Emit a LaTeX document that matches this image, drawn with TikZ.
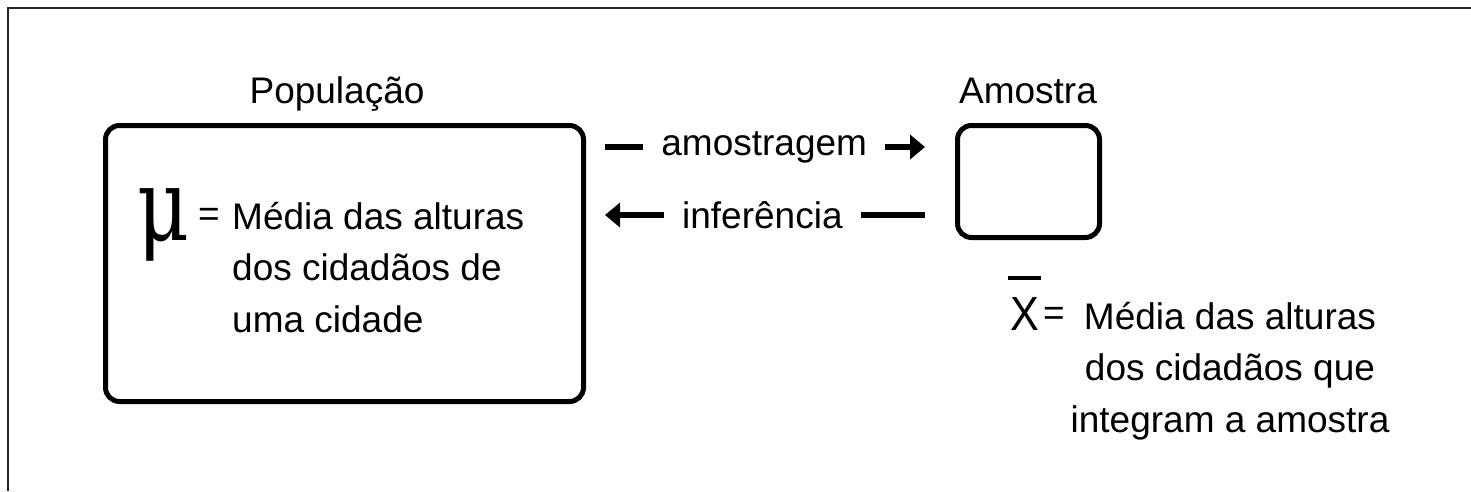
\documentclass[tikz,border=0pt]{standalone}
\usepackage{fontspec}
\setmainfont{Liberation Sans}
\newfontfamily\mufont{DejaVu Serif}
\usetikzlibrary{arrows.meta}
\begin{document}
\begin{tikzpicture}[x=1pt,y=-1pt,
  box/.style={draw, line width=5pt, rounded corners=14pt, inner sep=0pt},
  txt/.style={font=\fontsize{37}{51.5}\selectfont, inner sep=0pt},
  conn/.style={line width=6pt},
  tip/.style={-{Triangle[length=15pt,width=24pt]}},
  gaplbl/.style={txt, fill=white, inner xsep=18pt, inner ysep=4pt}]
\useasboundingbox (0,0) rectangle (1471,491);
% frame (only top and left edges visible)
\coordinate (f0) at (8,8);
\coordinate (f1) at (1471,8);
\coordinate (f2) at (8,491);
\draw[line width=2.5pt, black!85] (f1) -- (f0) -- (f2);
% boxes
\node[box, anchor=north west, minimum width=478pt, minimum height=276pt] (pop) at (103,123) {};
\node[box, anchor=north west, minimum width=142pt, minimum height=112pt] (amo) at (955,123) {};
% titles
\node[txt, anchor=base] (popt) at (337,103) {População};
\node[txt, anchor=base] (amot) at (1028,103) {Amostra};
% connectors
\coordinate (y1) at (0,147);
\coordinate (y2) at (0,215);
\draw[conn, tip, shorten <=19pt, shorten >=30pt] (pop.east |- y1) -- node[gaplbl, pos=0.483] (lamo) {amostragem} (amo.west |- y1);
\draw[conn, tip, shorten <=30pt, shorten >=19pt] (amo.west |- y2) -- node[gaplbl, pos=0.522] (linf) {inferência} (pop.east |- y2);
% population text
\node[anchor=base west, inner sep=0pt] (mu) at (137,240) {\scalebox{8}[10]{\mufont μ}};
\node[txt] (eq1) at (209,217) {=};
\node[txt, anchor=north west, align=left] (popdesc) at (232,202) {Média das alturas\\ dos cidadãos de\\ uma cidade};
% sample text
\node[inner sep=0pt, anchor=base west, font=\fontsize{48}{48}\selectfont] (xb) at (1010,330) {\scalebox{0.9}[1]{X}};
\draw[line width=3.5pt] ([xshift=-2pt,yshift=19pt]xb.north west) -- ([xshift=2pt,yshift=19pt]xb.north east);
\node[txt] (eq2) at (1054,316) {=};
\node[txt, anchor=north, align=center] (amodesc) at (1230,302) {Média das alturas\\ dos cidadãos que\\ integram a amostra};
\end{tikzpicture}
\end{document}
